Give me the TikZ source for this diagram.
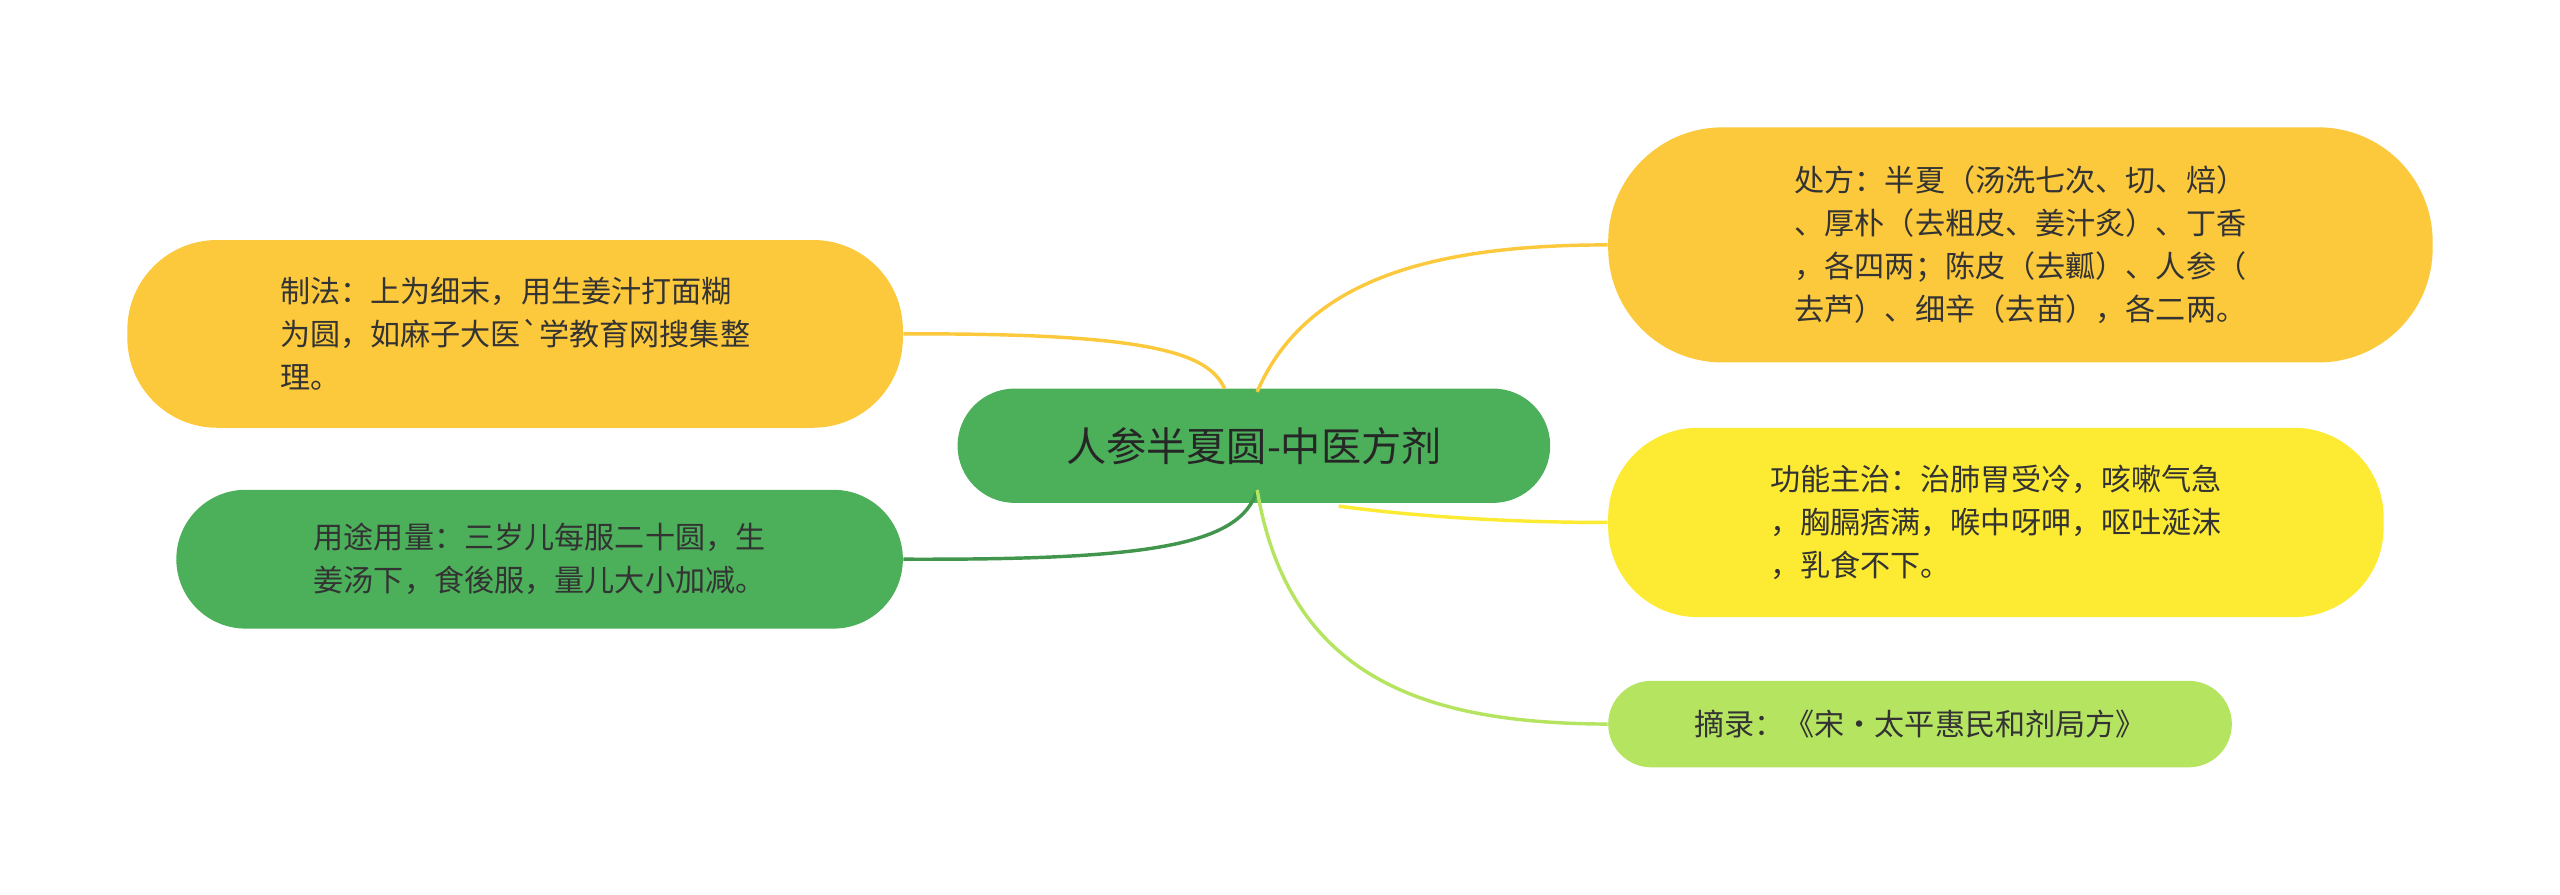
\documentclass[tikz,border=0pt]{standalone}
\usepackage{fontspec}
\newfontfamily\cjk{Noto Sans CJK SC}
\begin{document}
\begin{tikzpicture}[x=0.02cm,y=-0.02cm,
 pill/.style={rounded corners=1.1cm,inner sep=0pt,font=\cjk\fontsize{10.5}{15}\selectfont,text=black!80,align=left},
 link/.style={line width=1.2pt}]
\useasboundingbox (0,0) rectangle (1568,548);
\definecolor{cg}{HTML}{4CAF5A}\definecolor{co}{HTML}{FCC93D}\definecolor{cy}{HTML}{FDEB33}\definecolor{cl}{HTML}{B5E461}
\node[pill,fill=cg,minimum width=363*0.02cm,minimum height=70*0.02cm,rounded corners=0.7cm,font=\cjk\fontsize{14}{16}\selectfont,text=black!85] (c) at (768,273) {人参半夏圆-中医方剂};
\node[pill,fill=co,minimum width=475*0.02cm,minimum height=115*0.02cm] (a) at (315.5,204.5) {制法：上为细末，用生姜汁打面糊\\为圆，如麻子大医`学教育网搜集整\\理。};
\node[pill,fill=cg,minimum width=445*0.02cm,minimum height=85*0.02cm,rounded corners=0.85cm] (b) at (330.5,342.5) {用途用量：三岁儿每服二十圆，生\\姜汤下，食後服，量儿大小加减。};
\node[pill,fill=co,minimum width=505*0.02cm,minimum height=144*0.02cm,rounded corners=1.4cm] (d) at (1237.5,150) {处方：半夏（汤洗七次、切、焙）\\、厚朴（去粗皮、姜汁炙）、丁香\\，各四两；陈皮（去瓤）、人参（\\去芦）、细辛（去苗），各二两。};
\node[pill,fill=cy,minimum width=475*0.02cm,minimum height=116*0.02cm] (e) at (1222.5,320) {功能主治：治肺胃受冷，咳嗽气急\\，胸膈痞满，喉中呀呷，呕吐涎沫\\，乳食不下。};
\node[pill,fill=cl,minimum width=382*0.02cm,minimum height=53*0.02cm,rounded corners=0.53cm] (f) at (1176,443.5) {摘录：《宋·太平惠民和剂局方》};
\coordinate (ct) at (770,240);\coordinate (cb) at (770,300);
\draw[link,co] (a.east) .. controls (700,204) and (740,215) .. (750,238);
\draw[link,cg!85!black] (b.east) .. controls (700,343) and (760,335) .. (cb);
\draw[link,co] (ct) .. controls (800,170) and (880,150) .. (d.west);
\draw[link,cy] (820,310) .. controls (880,318) and (940,320) .. (e.west);
\draw[link,cl] (cb) .. controls (790,420) and (880,443) .. (f.west);
\end{tikzpicture}
\end{document}
